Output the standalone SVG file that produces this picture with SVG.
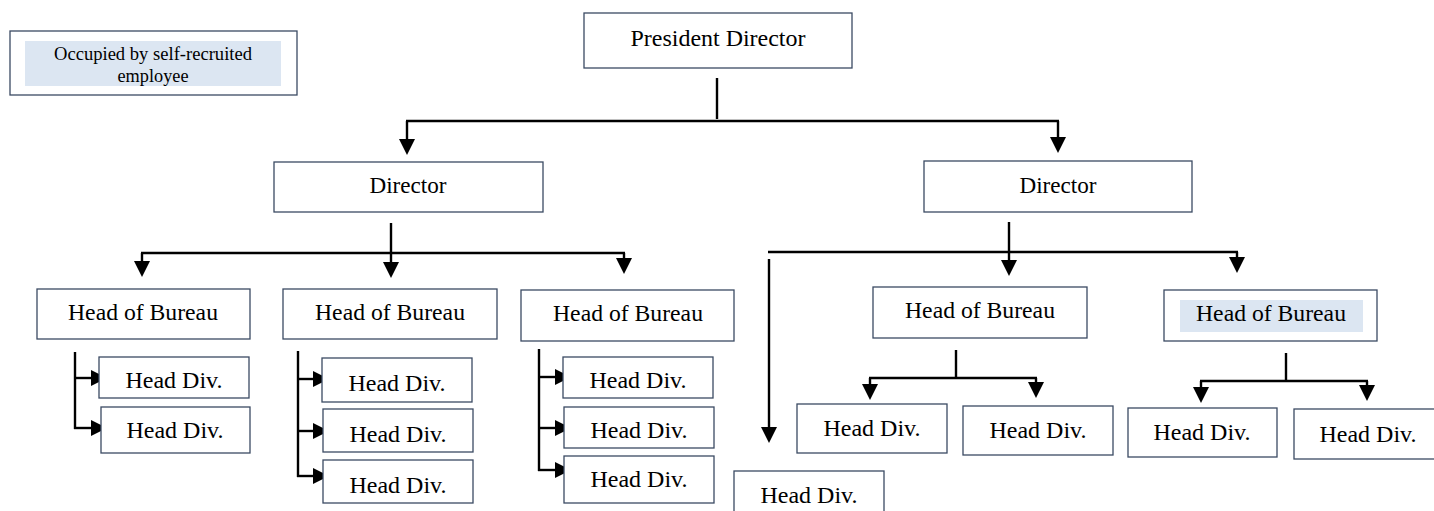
<svg xmlns="http://www.w3.org/2000/svg" width="1434" height="511" viewBox="0 0 1434 511">
  <style>
    .box { fill: #ffffff; stroke: #3b4a63; stroke-width: 1.3; }
    .hl { fill: #dce6f2; stroke: none; }
    .lbl { font-size: 23.5px; fill: #000000; text-anchor: middle; }
    .small { font-size: 18.5px; fill: #000000; text-anchor: middle; }
    .ln { fill: none; stroke: #000000; stroke-width: 2.4; }
    .hd { fill: #000000; stroke: none; }
  </style>
  <defs>
    <path id="ad" d="M-8,-16 L8,-16 L0,0 z"/>
    <path id="ar" d="M-16,-8 L0,0 L-16,8 z"/>
  </defs>
  <rect width="1434" height="511" fill="#ffffff"/>

  <g id="connectors">
    <path class="ln" d="M717,78 V119"/>
    <path class="ln" d="M406,121 H1059"/>
    <path class="ln" d="M407,121 V142"/>
    <use href="#ad" class="hd" x="407" y="155"/>
    <path class="ln" d="M1058,121 V140"/>
    <use href="#ad" class="hd" x="1058" y="153"/>

    <path class="ln" d="M391,223 V265"/>
    <use href="#ad" class="hd" x="391" y="278"/>
    <path class="ln" d="M141,253 H625"/>
    <path class="ln" d="M142,253 V264"/>
    <use href="#ad" class="hd" x="142" y="277"/>
    <path class="ln" d="M624,253 V261"/>
    <use href="#ad" class="hd" x="624" y="274"/>

    <path class="ln" d="M1009,222 V263"/>
    <use href="#ad" class="hd" x="1009" y="276"/>
    <path class="ln" d="M768,252 H1238"/>
    <path class="ln" d="M1237,252 V260"/>
    <use href="#ad" class="hd" x="1237" y="273"/>
    <path class="ln" d="M769,259 V430"/>
    <use href="#ad" class="hd" x="769" y="443"/>

    <path class="ln" d="M956,350 V378"/>
    <path class="ln" d="M869,378 H1037"/>
    <path class="ln" d="M870,378 V387"/>
    <use href="#ad" class="hd" x="870" y="400"/>
    <path class="ln" d="M1036,378 V385"/>
    <use href="#ad" class="hd" x="1036" y="398"/>

    <path class="ln" d="M1286,353 V381"/>
    <path class="ln" d="M1200,381 H1368"/>
    <path class="ln" d="M1201,381 V390"/>
    <use href="#ad" class="hd" x="1201" y="403"/>
    <path class="ln" d="M1367,381 V388"/>
    <use href="#ad" class="hd" x="1367" y="401"/>

    <path class="ln" d="M75,352 V429"/>
    <path class="ln" d="M74,378 H94"/>
    <use href="#ar" class="hd" x="107" y="378"/>
    <path class="ln" d="M74,428 H94"/>
    <use href="#ar" class="hd" x="107" y="428"/>

    <path class="ln" d="M298,351 V477"/>
    <path class="ln" d="M297,379 H316"/>
    <use href="#ar" class="hd" x="329" y="379"/>
    <path class="ln" d="M297,431 H316"/>
    <use href="#ar" class="hd" x="329" y="431"/>
    <path class="ln" d="M297,476 H316"/>
    <use href="#ar" class="hd" x="329" y="476"/>

    <path class="ln" d="M539,349 V471"/>
    <path class="ln" d="M538,377 H558"/>
    <use href="#ar" class="hd" x="571" y="377"/>
    <path class="ln" d="M538,428 H558"/>
    <use href="#ar" class="hd" x="571" y="428"/>
    <path class="ln" d="M538,470 H558"/>
    <use href="#ar" class="hd" x="571" y="470"/>
  </g>

  <g font-family="'Liberation Serif', Tinos, 'Times New Roman', 'DejaVu Serif', serif">
  <g id="legend">
    <rect class="box" x="10" y="31" width="287" height="64"/>
    <rect class="hl" x="25" y="41" width="256" height="45"/>
    <text class="small" x="153" y="60" textLength="198" lengthAdjust="spacingAndGlyphs">Occupied by self-recruited</text>
    <text class="small" x="153" y="82" textLength="71" lengthAdjust="spacingAndGlyphs">employee</text>
  </g>

  <g id="president">
    <rect class="box" x="584" y="13" width="268" height="55"/>
    <text class="lbl" x="718" y="46" textLength="175" lengthAdjust="spacingAndGlyphs">President Director</text>
  </g>

  <g id="director-left">
    <rect class="box" x="274" y="162" width="269" height="50"/>
    <text class="lbl" x="408" y="193" textLength="77" lengthAdjust="spacingAndGlyphs">Director</text>
  </g>
  <g id="director-right">
    <rect class="box" x="924" y="161" width="268" height="51"/>
    <text class="lbl" x="1058" y="193" textLength="77" lengthAdjust="spacingAndGlyphs">Director</text>
  </g>

  <g id="bureau-1">
    <rect class="box" x="37" y="289" width="213" height="50"/>
    <text class="lbl" x="143" y="320" textLength="150" lengthAdjust="spacingAndGlyphs">Head of Bureau</text>
  </g>
  <g id="bureau-2">
    <rect class="box" x="283" y="289" width="214" height="50"/>
    <text class="lbl" x="390" y="320" textLength="150" lengthAdjust="spacingAndGlyphs">Head of Bureau</text>
  </g>
  <g id="bureau-3">
    <rect class="box" x="521" y="290" width="213" height="51"/>
    <text class="lbl" x="628" y="321" textLength="150" lengthAdjust="spacingAndGlyphs">Head of Bureau</text>
  </g>
  <g id="bureau-4">
    <rect class="box" x="873" y="287" width="214" height="51"/>
    <text class="lbl" x="980" y="318" textLength="150" lengthAdjust="spacingAndGlyphs">Head of Bureau</text>
  </g>
  <g id="bureau-5">
    <rect class="box" x="1164" y="290" width="213" height="51"/>
    <rect class="hl" x="1180" y="300" width="183" height="32"/>
    <text class="lbl" x="1271" y="321" textLength="150" lengthAdjust="spacingAndGlyphs">Head of Bureau</text>
  </g>

  <g id="div-1a"><rect class="box" x="99" y="357" width="150" height="41"/><text class="lbl" x="174" y="388" textLength="97" lengthAdjust="spacingAndGlyphs">Head Div.</text></g>
  <g id="div-1b"><rect class="box" x="101" y="407" width="149" height="46"/><text class="lbl" x="175" y="438" textLength="97" lengthAdjust="spacingAndGlyphs">Head Div.</text></g>
  <g id="div-2a"><rect class="box" x="322" y="358" width="150" height="44"/><text class="lbl" x="397" y="391" textLength="97" lengthAdjust="spacingAndGlyphs">Head Div.</text></g>
  <g id="div-2b"><rect class="box" x="323" y="409" width="150" height="43"/><text class="lbl" x="398" y="442" textLength="97" lengthAdjust="spacingAndGlyphs">Head Div.</text></g>
  <g id="div-2c"><rect class="box" x="323" y="460" width="150" height="43"/><text class="lbl" x="398" y="493" textLength="97" lengthAdjust="spacingAndGlyphs">Head Div.</text></g>
  <g id="div-3a"><rect class="box" x="563" y="357" width="150" height="41"/><text class="lbl" x="638" y="388" textLength="97" lengthAdjust="spacingAndGlyphs">Head Div.</text></g>
  <g id="div-3b"><rect class="box" x="564" y="407" width="150" height="41"/><text class="lbl" x="639" y="438" textLength="97" lengthAdjust="spacingAndGlyphs">Head Div.</text></g>
  <g id="div-3c"><rect class="box" x="564" y="456" width="150" height="47"/><text class="lbl" x="639" y="487" textLength="97" lengthAdjust="spacingAndGlyphs">Head Div.</text></g>
  <g id="div-4a"><rect class="box" x="797" y="404" width="150" height="49"/><text class="lbl" x="872" y="436" textLength="97" lengthAdjust="spacingAndGlyphs">Head Div.</text></g>
  <g id="div-4b"><rect class="box" x="963" y="406" width="150" height="49"/><text class="lbl" x="1038" y="438" textLength="97" lengthAdjust="spacingAndGlyphs">Head Div.</text></g>
  <g id="div-5a"><rect class="box" x="1128" y="408" width="149" height="49"/><text class="lbl" x="1202" y="440" textLength="97" lengthAdjust="spacingAndGlyphs">Head Div.</text></g>
  <g id="div-5b"><rect class="box" x="1294" y="409" width="150" height="50"/><text class="lbl" x="1368" y="442" textLength="97" lengthAdjust="spacingAndGlyphs">Head Div.</text></g>
  <g id="div-6"><rect class="box" x="734" y="471" width="150" height="50"/><text class="lbl" x="809" y="503" textLength="97" lengthAdjust="spacingAndGlyphs">Head Div.</text></g>
  </g>
</svg>
